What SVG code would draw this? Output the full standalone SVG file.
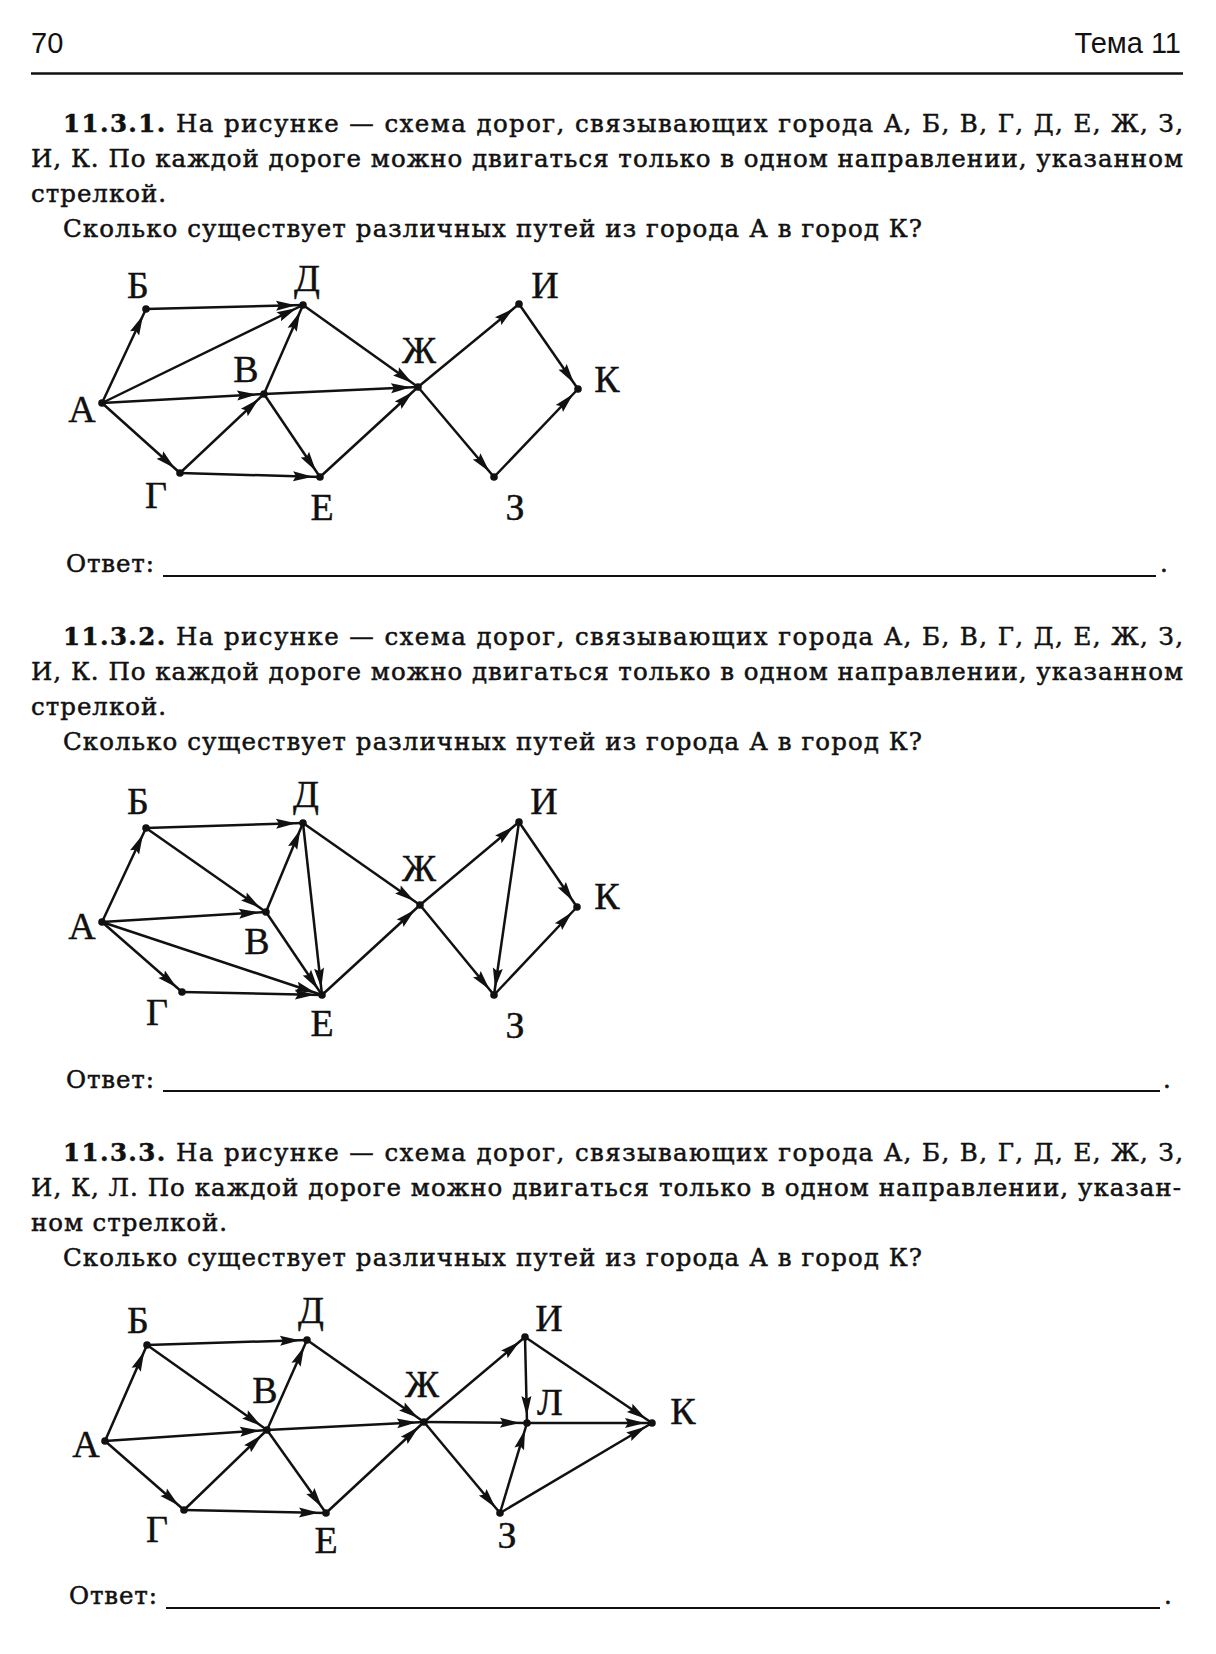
<svg xmlns="http://www.w3.org/2000/svg" width="1216" height="1654" viewBox="0 0 1216 1654">
<style>
.body{font-family:"DejaVu Serif","Liberation Serif",serif;font-size:24.5px;fill:#111;stroke:#111;stroke-width:0.5}
.num{font-weight:bold}
.hdr{font-family:"Liberation Sans","DejaVu Sans",sans-serif;font-size:29px;fill:#111}
.lbl{font-family:"Liberation Serif","Times New Roman",serif;font-size:38px;fill:#111;stroke:#111;stroke-width:0.4;text-anchor:middle}
.dot{fill:#111}
.edges line{stroke:#111;stroke-width:2.5;marker-end:url(#ah)}
.rule{stroke:#111;stroke-width:1.8}
</style>
<defs>
<marker id="ah" viewBox="0 0 28 12" refX="27" refY="6" markerWidth="28" markerHeight="12" markerUnits="userSpaceOnUse" orient="auto" overflow="visible">
<path d="M0,1 L20,6 L0,11 L3,6 Z" fill="#111"/>
</marker>
</defs>
<rect width="1216" height="1654" fill="#fff"/>

<!-- header -->
<text class="hdr" x="31" y="53">70</text>
<text class="hdr" x="1181" y="53" text-anchor="end">Тема 11</text>
<line x1="31" y1="73.5" x2="1183" y2="73.5" stroke="#111" stroke-width="2.5"/>

<!-- Problem 1 text -->
<text class="body" x="63" y="132" textLength="1120" lengthAdjust="spacing"><tspan class="num">11.3.1.</tspan> На рисунке — схема дорог, связывающих города А, Б, В, Г, Д, Е, Ж, З,</text>
<text class="body" x="31" y="167" textLength="1152" lengthAdjust="spacing">И, К. По каждой дороге можно двигаться только в одном направлении, указанном</text>
<text class="body" x="31" y="202" textLength="135" lengthAdjust="spacing">стрелкой.</text>
<text class="body" x="63" y="237" textLength="859" lengthAdjust="spacing">Сколько существует различных путей из города А в город К?</text>

<!-- Diagram 1 -->
<g class="edges" id="edges1">
<line x1="102" y1="403" x2="146" y2="309"/>
<line x1="102" y1="403" x2="303" y2="305"/>
<line x1="102" y1="403" x2="264" y2="394"/>
<line x1="102" y1="403" x2="180" y2="473"/>
<line x1="146" y1="309" x2="303" y2="305"/>
<line x1="264" y1="394" x2="303" y2="305"/>
<line x1="264" y1="394" x2="418" y2="387"/>
<line x1="264" y1="394" x2="320" y2="477"/>
<line x1="180" y1="473" x2="264" y2="394"/>
<line x1="180" y1="473" x2="320" y2="477"/>
<line x1="303" y1="305" x2="418" y2="387"/>
<line x1="320" y1="477" x2="418" y2="387"/>
<line x1="418" y1="387" x2="519" y2="304"/>
<line x1="418" y1="387" x2="494" y2="477"/>
<line x1="519" y1="304" x2="578" y2="389"/>
<line x1="494" y1="477" x2="578" y2="389"/>
</g>
<g id="d1-A"><circle class="dot" cx="102" cy="403" r="3.8"/><text class="lbl" x="82" y="422">А</text></g>
<g id="d1-B"><circle class="dot" cx="146" cy="309" r="3.8"/><text class="lbl" x="138" y="298">Б</text></g>
<g id="d1-D"><circle class="dot" cx="303" cy="305" r="3.8"/><text class="lbl" x="307" y="291">Д</text></g>
<g id="d1-V"><circle class="dot" cx="264" cy="394" r="3.8"/><text class="lbl" x="246" y="382">В</text></g>
<g id="d1-G"><circle class="dot" cx="180" cy="473" r="3.8"/><text class="lbl" x="156" y="508">Г</text></g>
<g id="d1-E"><circle class="dot" cx="320" cy="477" r="3.8"/><text class="lbl" x="322" y="520">Е</text></g>
<g id="d1-Zh"><circle class="dot" cx="418" cy="387" r="3.8"/><text class="lbl" x="419" y="363">Ж</text></g>
<g id="d1-I"><circle class="dot" cx="519" cy="304" r="3.8"/><text class="lbl" x="545" y="298">И</text></g>
<g id="d1-K"><circle class="dot" cx="578" cy="389" r="3.8"/><text class="lbl" x="607" y="392">К</text></g>
<g id="d1-Z"><circle class="dot" cx="494" cy="477" r="3.8"/><text class="lbl" x="515" y="520">З</text></g>

<text class="body" x="66" y="572" textLength="88" lengthAdjust="spacing">Ответ:</text>
<line class="rule" x1="163" y1="576" x2="1156" y2="576"/>
<text class="body" x="1160" y="572">.</text>

<!-- Problem 2 text -->
<text class="body" x="63" y="645" textLength="1120" lengthAdjust="spacing"><tspan class="num">11.3.2.</tspan> На рисунке — схема дорог, связывающих города А, Б, В, Г, Д, Е, Ж, З,</text>
<text class="body" x="31" y="680" textLength="1152" lengthAdjust="spacing">И, К. По каждой дороге можно двигаться только в одном направлении, указанном</text>
<text class="body" x="31" y="715" textLength="135" lengthAdjust="spacing">стрелкой.</text>
<text class="body" x="63" y="750" textLength="859" lengthAdjust="spacing">Сколько существует различных путей из города А в город К?</text>

<!-- Diagram 2 -->
<g class="edges" id="edges2">
<line x1="102" y1="922" x2="146" y2="828"/>
<line x1="102" y1="922" x2="266" y2="912"/>
<line x1="102" y1="922" x2="322" y2="995"/>
<line x1="102" y1="922" x2="182" y2="992"/>
<line x1="146" y1="828" x2="303" y2="823"/>
<line x1="146" y1="828" x2="266" y2="912"/>
<line x1="266" y1="912" x2="303" y2="823"/>
<line x1="266" y1="912" x2="322" y2="995"/>
<line x1="303" y1="823" x2="322" y2="995"/>
<line x1="182" y1="992" x2="322" y2="995"/>
<line x1="303" y1="823" x2="420" y2="905"/>
<line x1="322" y1="995" x2="420" y2="905"/>
<line x1="420" y1="905" x2="519" y2="822"/>
<line x1="420" y1="905" x2="494" y2="995"/>
<line x1="519" y1="822" x2="494" y2="995"/>
<line x1="519" y1="822" x2="577" y2="907"/>
<line x1="494" y1="995" x2="577" y2="907"/>
</g>
<g id="d2-A"><circle class="dot" cx="102" cy="922" r="3.8"/><text class="lbl" x="82" y="939">А</text></g>
<g id="d2-B"><circle class="dot" cx="146" cy="828" r="3.8"/><text class="lbl" x="138" y="814">Б</text></g>
<g id="d2-D"><circle class="dot" cx="303" cy="823" r="3.8"/><text class="lbl" x="306" y="807">Д</text></g>
<g id="d2-V"><circle class="dot" cx="266" cy="912" r="3.8"/><text class="lbl" x="257" y="954">В</text></g>
<g id="d2-G"><circle class="dot" cx="182" cy="992" r="3.8"/><text class="lbl" x="157" y="1025">Г</text></g>
<g id="d2-E"><circle class="dot" cx="322" cy="995" r="3.8"/><text class="lbl" x="322" y="1036">Е</text></g>
<g id="d2-Zh"><circle class="dot" cx="420" cy="905" r="3.8"/><text class="lbl" x="419" y="881">Ж</text></g>
<g id="d2-I"><circle class="dot" cx="519" cy="822" r="3.8"/><text class="lbl" x="544" y="814">И</text></g>
<g id="d2-K"><circle class="dot" cx="577" cy="907" r="3.8"/><text class="lbl" x="607" y="909">К</text></g>
<g id="d2-Z"><circle class="dot" cx="494" cy="995" r="3.8"/><text class="lbl" x="515" y="1038">З</text></g>

<text class="body" x="66" y="1088" textLength="88" lengthAdjust="spacing">Ответ:</text>
<line class="rule" x1="163" y1="1091" x2="1160" y2="1091"/>
<text class="body" x="1163" y="1088">.</text>

<!-- Problem 3 text -->
<text class="body" x="63" y="1161" textLength="1120" lengthAdjust="spacing"><tspan class="num">11.3.3.</tspan> На рисунке — схема дорог, связывающих города А, Б, В, Г, Д, Е, Ж, З,</text>
<text class="body" x="31" y="1196" textLength="1150" lengthAdjust="spacing">И, К, Л. По каждой дороге можно двигаться только в одном направлении, указан-</text>
<text class="body" x="31" y="1231" textLength="196" lengthAdjust="spacing">ном стрелкой.</text>
<text class="body" x="63" y="1266" textLength="859" lengthAdjust="spacing">Сколько существует различных путей из города А в город К?</text>

<!-- Diagram 3 -->
<g class="edges" id="edges3">
<line x1="105" y1="1441" x2="147" y2="1345"/>
<line x1="105" y1="1441" x2="267" y2="1430"/>
<line x1="105" y1="1441" x2="184" y2="1510"/>
<line x1="147" y1="1345" x2="307" y2="1340"/>
<line x1="147" y1="1345" x2="267" y2="1430"/>
<line x1="267" y1="1430" x2="307" y2="1340"/>
<line x1="267" y1="1430" x2="424" y2="1422"/>
<line x1="267" y1="1430" x2="326" y2="1513"/>
<line x1="184" y1="1510" x2="267" y2="1430"/>
<line x1="184" y1="1510" x2="326" y2="1513"/>
<line x1="307" y1="1340" x2="424" y2="1422"/>
<line x1="326" y1="1513" x2="424" y2="1422"/>
<line x1="424" y1="1422" x2="525" y2="1337"/>
<line x1="424" y1="1422" x2="527" y2="1423"/>
<line x1="424" y1="1422" x2="500" y2="1513"/>
<line x1="525" y1="1337" x2="527" y2="1423"/>
<line x1="525" y1="1337" x2="652" y2="1423"/>
<line x1="527" y1="1423" x2="652" y2="1423"/>
<line x1="500" y1="1513" x2="527" y2="1423"/>
<line x1="500" y1="1513" x2="652" y2="1423"/>
</g>
<g id="d3-A"><circle class="dot" cx="105" cy="1441" r="3.8"/><text class="lbl" x="86" y="1457">А</text></g>
<g id="d3-B"><circle class="dot" cx="147" cy="1345" r="3.8"/><text class="lbl" x="138" y="1333">Б</text></g>
<g id="d3-D"><circle class="dot" cx="307" cy="1340" r="3.8"/><text class="lbl" x="311" y="1323">Д</text></g>
<g id="d3-V"><circle class="dot" cx="267" cy="1430" r="3.8"/><text class="lbl" x="265" y="1403">В</text></g>
<g id="d3-G"><circle class="dot" cx="184" cy="1510" r="3.8"/><text class="lbl" x="157" y="1542">Г</text></g>
<g id="d3-E"><circle class="dot" cx="326" cy="1513" r="3.8"/><text class="lbl" x="326" y="1553">Е</text></g>
<g id="d3-Zh"><circle class="dot" cx="424" cy="1422" r="3.8"/><text class="lbl" x="422" y="1397">Ж</text></g>
<g id="d3-I"><circle class="dot" cx="525" cy="1337" r="3.8"/><text class="lbl" x="549" y="1331">И</text></g>
<g id="d3-L"><circle class="dot" cx="527" cy="1423" r="3.8"/><text class="lbl" x="550" y="1415">Л</text></g>
<g id="d3-K"><circle class="dot" cx="652" cy="1423" r="3.8"/><text class="lbl" x="683" y="1424">К</text></g>
<g id="d3-Z"><circle class="dot" cx="500" cy="1513" r="3.8"/><text class="lbl" x="507" y="1548">З</text></g>

<text class="body" x="69" y="1604" textLength="88" lengthAdjust="spacing">Ответ:</text>
<line class="rule" x1="166" y1="1608" x2="1160" y2="1608"/>
<text class="body" x="1164" y="1604">.</text>
</svg>
